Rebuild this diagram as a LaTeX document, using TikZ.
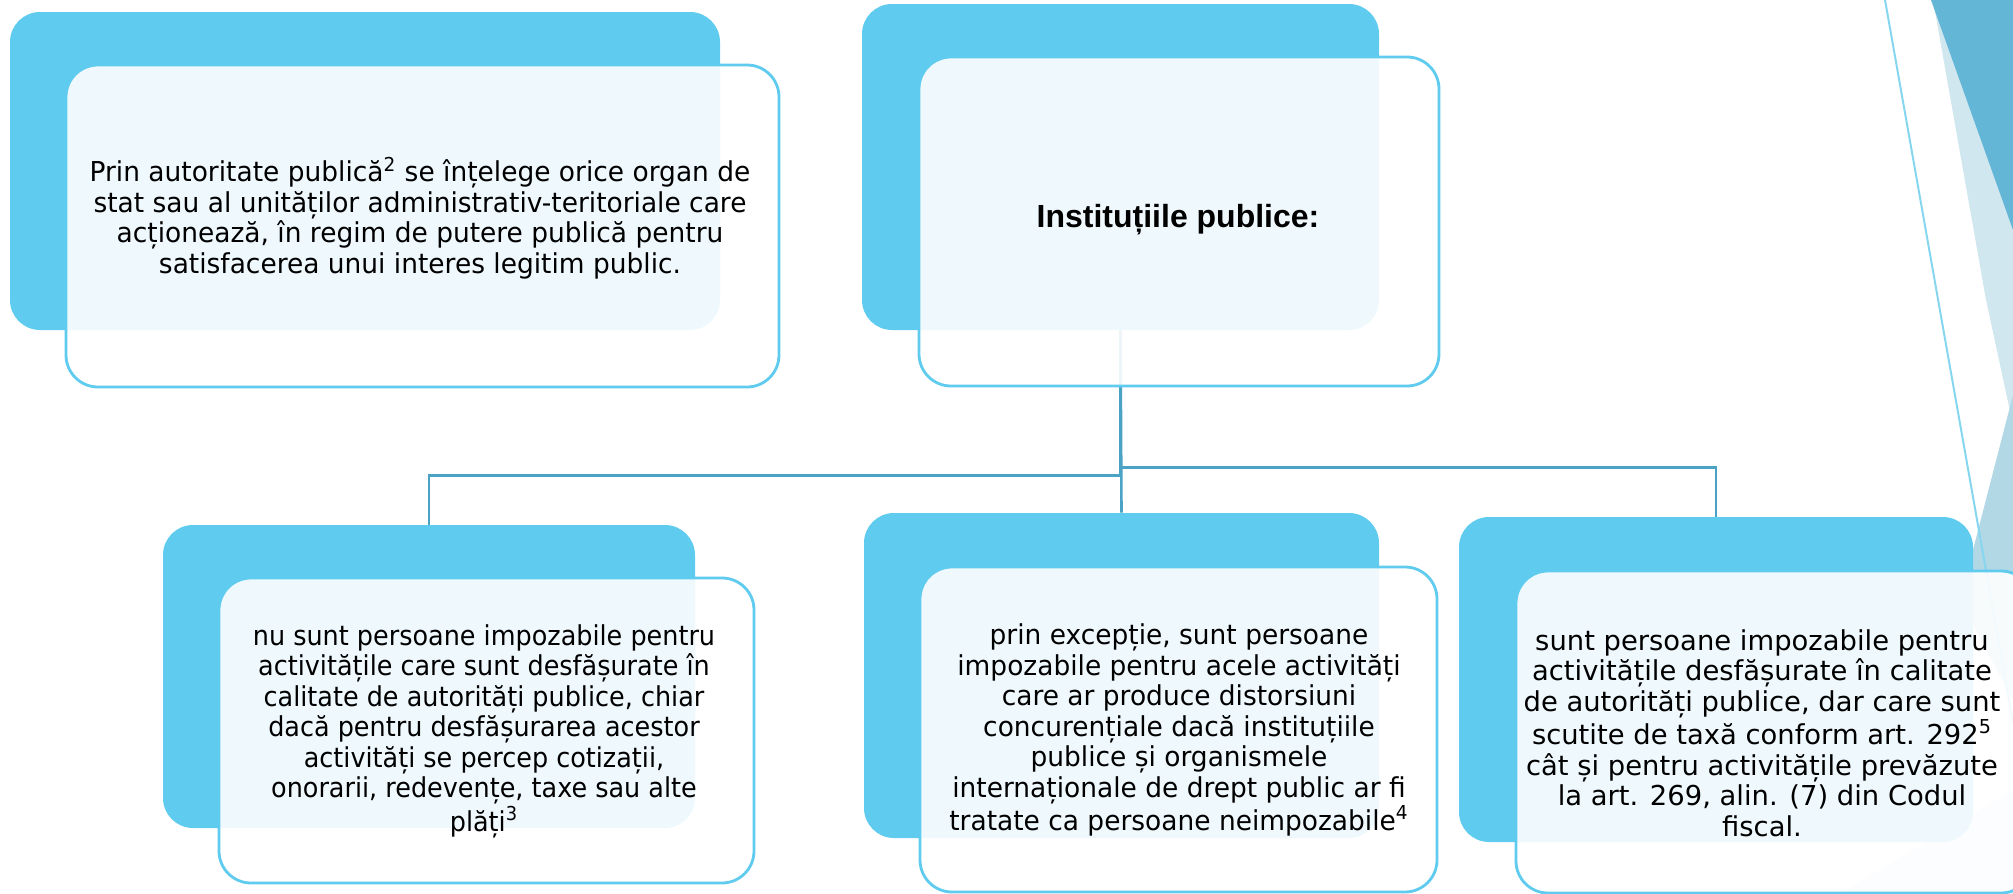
\documentclass[tikz,border=0pt]{standalone}
\usepackage{fontspec}
\setmainfont{DejaVu Sans}
\newfontfamily\bodyfont[FakeStretch=0.965]{DejaVu Sans}
\newfontfamily\narrowfont[FakeStretch=0.93]{DejaVu Sans}
\newfontfamily\headfont{Liberation Sans}
\usetikzlibrary{positioning}
\definecolor{skyback}{RGB}{95,203,238}
\definecolor{linkblue}{RGB}{74,163,196}
\definecolor{facetdark}{RGB}{99,182,214}
\definecolor{facetpale}{RGB}{209,231,239}
\definecolor{facetmid}{RGB}{178,216,230}
\definecolor{facetline}{RGB}{135,214,240}
\definecolor{facetfaint}{RGB}{232,242,247}
\tikzset{
	backbox/.style={draw=none, fill=skyback, rounded corners=15pt, inner sep=0pt},
	frontbox/.style={draw=skyback, line width=1.4pt, fill=white, fill opacity=0.9,
			rounded corners=16pt, inner sep=0pt},
	bodytext/.style={align=center, inner sep=0pt, font=\bodyfont\fontsize{13.7}{15.25}\selectfont},
	link/.style={draw=linkblue, line width=1.3pt}
}

\begin{document}
\begin{tikzpicture}[x=0.5pt,y=-0.5pt]
    \clip (0,0) rectangle (2013,894);
    % right hand facets
    \fill[facetpale] (1933,0) -- (1986,300) -- (2013,425) -- (2013,0) -- cycle;
    \fill[facetdark] (1931,0) -- (2013,230) -- (2013,0) -- cycle;
    \fill[facetmid] (2013,395) -- (1960,600) -- (2013,700) -- cycle;
    \fill[facetfaint] (1840,894) -- (2013,790) -- (2013,894) -- cycle;
    \draw[facetline, line width=1pt] (1885,0) -- (2013,723);
    % back boxes
    \node[backbox, minimum width=355pt, minimum height=159pt] (b1) at (365,171) {};
    \node[backbox, minimum width=258.5pt, minimum height=163pt] (b2) at (1120.5,167) {};
    \node[backbox, minimum width=266pt, minimum height=151.5pt] (b3) at (429,676.5) {};
    \node[backbox, minimum width=257.5pt, minimum height=162.5pt] (b4) at (1121.5,675.5) {};
    \node[backbox, minimum width=257pt, minimum height=162.5pt] (b5) at (1716,679.5) {};
    % connectors
    \draw[link] (b2.south) -- ++(0,145) -| (b3.north);
    \draw[link] (b2.south) -- (b4.north);
    \draw[link] (b2.south) -- ++(0,137) -| (b5.north);
    % front boxes
    \node[frontbox, minimum width=356.5pt, minimum height=161pt] (f1) at (422.5,226) {};
    \node[frontbox, minimum width=260pt, minimum height=164.5pt] (f2) at (1179,221.5) {};
    \node[frontbox, minimum width=267.5pt, minimum height=152.5pt] (f3) at (486.5,730.5) {};
    \node[frontbox, minimum width=258.5pt, minimum height=162.5pt] (f4) at (1178.5,729.5) {};
    \node[frontbox, minimum width=258.5pt, minimum height=161pt] (f5) at (1774.5,732) {};
    % texts
    \node[bodytext] (t1) at (420,218) {Prin autoritate publică\textsuperscript{2} se înțelege orice organ de\\
        stat sau al unităților administrativ-teritoriale care\\
        acționează, în regim de putere publică pentru\\
        satisfacerea unui interes legitim public.};
    \node[inner sep=0pt, font=\headfont\bfseries\fontsize{16}{19}\selectfont] (t2) at (1178,220) {Instituțiile publice:};
    \node[bodytext, font=\narrowfont\fontsize{13.7}{15.25}\selectfont] (t3) at (484,731) {nu sunt persoane impozabile pentru\\
        activitățile care sunt desfășurate în\\
        calitate de autorități publice, chiar\\
        dacă pentru desfășurarea acestor\\
        activități se percep cotizații,\\
        onorarii, redevențe, taxe sau alte\\
        plăți\textsuperscript{3}};
    \node[bodytext] (t4) at (1179,730) {prin excepție, sunt persoane\\
        impozabile pentru acele activități\\
        care ar produce distorsiuni\\
        concurențiale dacă instituțiile\\
        publice și organismele\\
        internaționale de drept public ar fi\\
        tratate ca persoane neimpozabile\textsuperscript{4}};
    \node[bodytext, font=\normalfont\fontsize{13.7}{15.3}\selectfont] (t5) at (1762,733) {sunt persoane impozabile pentru\\
        activitățile desfășurate în calitate\\
        de autorități publice, dar care sunt\\
        scutite de taxă conform art. 292\textsuperscript{5}\\
        cât și pentru activitățile prevăzute\\
        la art. 269, alin. (7) din Codul\\
        fiscal.};
\end{tikzpicture}
\end{document}
